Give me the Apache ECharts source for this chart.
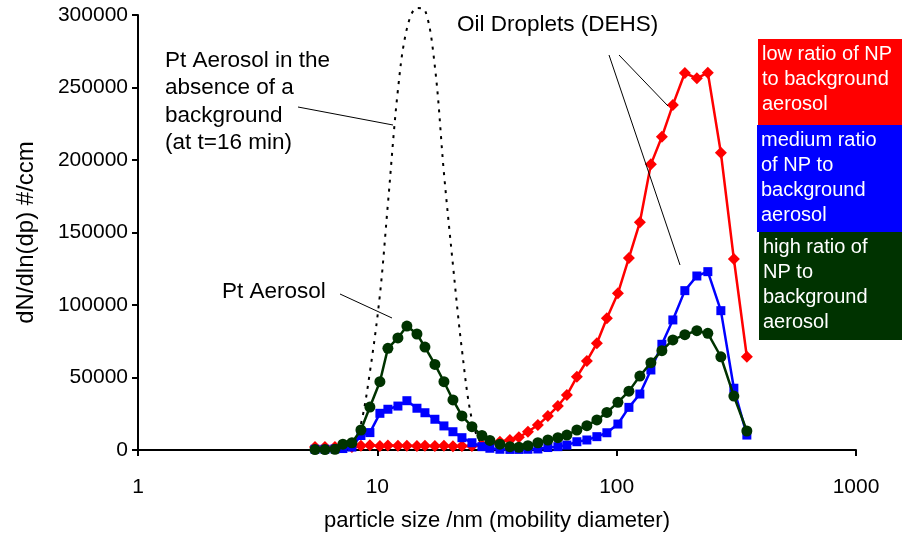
<!DOCTYPE html>
<html><head><meta charset="utf-8">
<script src="https://cdn.jsdelivr.net/npm/echarts/dist/echarts.min.js"></script>
<style>html,body{margin:0;padding:0;background:#fff}#c{width:902px;height:534px}</style>
</head><body><div id="c"></div>
<script>
// particle mobility diameter (nm)
const diameters = [5.49, 6.04, 6.65, 7.18, 7.83, 8.54, 9.31, 10.25, 11.07, 12.19, 13.29, 14.64, 15.81, 17.40, 18.98, 20.70, 22.57, 24.85, 27.35, 29.53, 32.52, 35.80, 39.04, 42.58, 46.86, 51.59, 56.81, 61.94, 68.20, 75.07, 82.66, 91.01, 101.2, 112.5, 125.0, 139.0, 154.5, 171.7, 192.7, 216.3, 240.4, 272.5, 308.8, 349.9];
const lowRatio = [2000, 2000, 2000, 2000, 2000, 3000, 3200, 2800, 3100, 2900, 3000, 2800, 3000, 2700, 2900, 2600, 2800, 2800, 3500, 4600, 5700, 6900, 8800, 12600, 17200, 23400, 30300, 37900, 50500, 61400, 73600, 90800, 108100, 132500, 157000, 197000, 216000, 238000, 260000, 256300, 260200, 205000, 131700, 64300];
const mediumRatio = [500, 500, 700, 1000, 2000, 10000, 12000, 25300, 28100, 30300, 34000, 28800, 25700, 21200, 16600, 12600, 8500, 5000, 2300, 1200, 500, 400, 400, 500, 700, 1700, 2300, 3400, 5700, 6900, 9200, 11900, 17900, 29400, 38600, 55200, 72900, 89700, 109900, 120000, 123000, 96100, 42600, 10300];
const highRatio = [300, 300, 500, 4000, 5000, 13800, 29600, 47100, 70100, 77300, 85500, 80000, 71000, 59000, 47100, 34500, 23500, 16100, 10000, 6600, 4000, 2300, 1900, 3000, 5000, 6900, 8500, 10300, 13800, 16800, 20700, 25900, 32900, 40600, 51000, 60200, 68500, 75900, 79500, 82300, 80500, 64300, 37200, 13100];
const ptNoBackground = [0, 0, 0, 0, 1500, 18000, 53800, 106900, 169700, 248300, 290600, 304800, 303400, 264300, 191000, 127600, 69000, 20700, 3400, 300, 0, 0, 0, 0, 0, 0, 0, 0, 0, 0, 0, 0, 0, 0, 0, 0, 0, 0, 0, 0, 0, 0, 0, 0];
const seriesNames = ['low ratio of NP to background aerosol', 'medium ratio of NP to background aerosol', 'high ratio of NP to background aerosol', 'Pt Aerosol in the absence of a background (at t=16 min)'];
const legendLines = [['low ratio of NP', 'to background', 'aerosol'], ['medium ratio', 'of NP to', 'background', 'aerosol'], ['high ratio of', 'NP to', 'background', 'aerosol']];
const yTicks = [0, 50000, 100000, 150000, 200000, 250000, 300000];
const xTicks = [1, 10, 100, 1000];

const pairs = arr => diameters.map((d, i) => [d, arr[i]]);
const FONT = "'Liberation Sans', Arial, sans-serif";
const chart = echarts.init(document.getElementById('c'), null, {renderer: 'canvas'});

const legendColors = ['#FF0000', '#0000FF', '#003300'];
const legendBoxes = [{x: 758, y: 39, w: 144, h: 86}, {x: 757, y: 125, w: 145, h: 107}, {x: 759, y: 232, w: 143, h: 108}];
const graphics = [];
legendBoxes.forEach((b, i) => {
  graphics.push({type: 'rect', shape: {x: b.x, y: b.y, width: b.w, height: b.h}, style: {fill: legendColors[i]}, z: 10});
  graphics.push({type: 'text', x: b.x + 4, y: b.y + 3, z: 11, style: {text: legendLines[i].join('\n'), fill: '#fff', font: '20px ' + FONT, lineHeight: 25}});
});
const line = (x1, y1, x2, y2) => ({type: 'line', shape: {x1, y1, x2, y2}, style: {stroke: '#000', lineWidth: 1}, z: 10});
graphics.push(line(298, 107, 393, 125));
graphics.push(line(619, 55, 668, 106));
graphics.push(line(609, 55, 680, 265));
graphics.push(line(340, 294, 392, 318));
graphics.push({type: 'text', x: 165, y: 47, z: 10, style: {text: 'Pt Aerosol in the\nabsence of a\nbackground\n(at t=16 min)', fill: '#000', font: '22.5px ' + FONT, lineHeight: 27.5}});
graphics.push({type: 'text', x: 457, y: 13, z: 10, style: {text: 'Oil Droplets (DEHS)', fill: '#000', font: '22.5px ' + FONT}});
graphics.push({type: 'text', x: 222, y: 280, z: 10, style: {text: 'Pt Aerosol', fill: '#000', font: '22.5px ' + FONT}});

chart.setOption({
  animation: false,
  backgroundColor: '#fff',
  textStyle: {fontFamily: FONT},
  grid: {left: 138, right: 46, top: 15, bottom: 84, containLabel: false, outerBoundsMode: 'none'},
  xAxis: {
    type: 'log', logBase: 10, min: xTicks[0], max: xTicks[xTicks.length - 1],
    name: 'particle size /nm (mobility diameter)', nameLocation: 'middle', nameGap: 60,
    nameTextStyle: {color: '#000', fontSize: 22, fontFamily: FONT},
    axisLine: {lineStyle: {color: '#000', width: 2}},
    axisTick: {show: true, length: 6, lineStyle: {color: '#000', width: 2}},
    axisLabel: {color: '#000', fontSize: 21, margin: 27, fontFamily: FONT, formatter: v => String(v)},
    splitLine: {show: false}, minorTick: {show: false}
  },
  yAxis: {
    type: 'value', min: yTicks[0], max: yTicks[yTicks.length - 1], interval: yTicks[1] - yTicks[0],
    name: 'dN/dln(dp) #/ccm', nameLocation: 'middle', nameGap: 100, nameRotate: 90,
    nameTextStyle: {color: '#000', fontSize: 24, fontFamily: FONT},
    axisLine: {show: true, lineStyle: {color: '#000', width: 2}},
    axisTick: {show: true, length: 6, lineStyle: {color: '#000', width: 2}},
    axisLabel: {color: '#000', fontSize: 21, margin: 10, fontFamily: FONT, formatter: v => String(v)},
    splitLine: {show: false}
  },
  series: [
    {name: seriesNames[3], type: 'line', data: pairs(ptNoBackground), smooth: 0.35, showSymbol: false, symbol: 'none', clip: false,
      lineStyle: {color: '#000', width: 2, type: [3, 6]}, z: 1},
    {name: seriesNames[0], type: 'line', data: pairs(lowRatio), symbol: 'diamond', symbolSize: 12, showAllSymbol: true,
      itemStyle: {color: '#FF0000'}, lineStyle: {color: '#FF0000', width: 2.5}, z: 2},
    {name: seriesNames[1], type: 'line', data: pairs(mediumRatio), symbol: 'rect', symbolSize: 9, showAllSymbol: true,
      itemStyle: {color: '#0000FF'}, lineStyle: {color: '#0000FF', width: 2.5}, z: 3},
    {name: seriesNames[2], type: 'line', data: pairs(highRatio), symbol: 'circle', symbolSize: 11, showAllSymbol: true,
      itemStyle: {color: '#003300'}, lineStyle: {color: '#003300', width: 2.5}, z: 4}
  ],
  graphic: graphics
});
</script>
</body></html>
